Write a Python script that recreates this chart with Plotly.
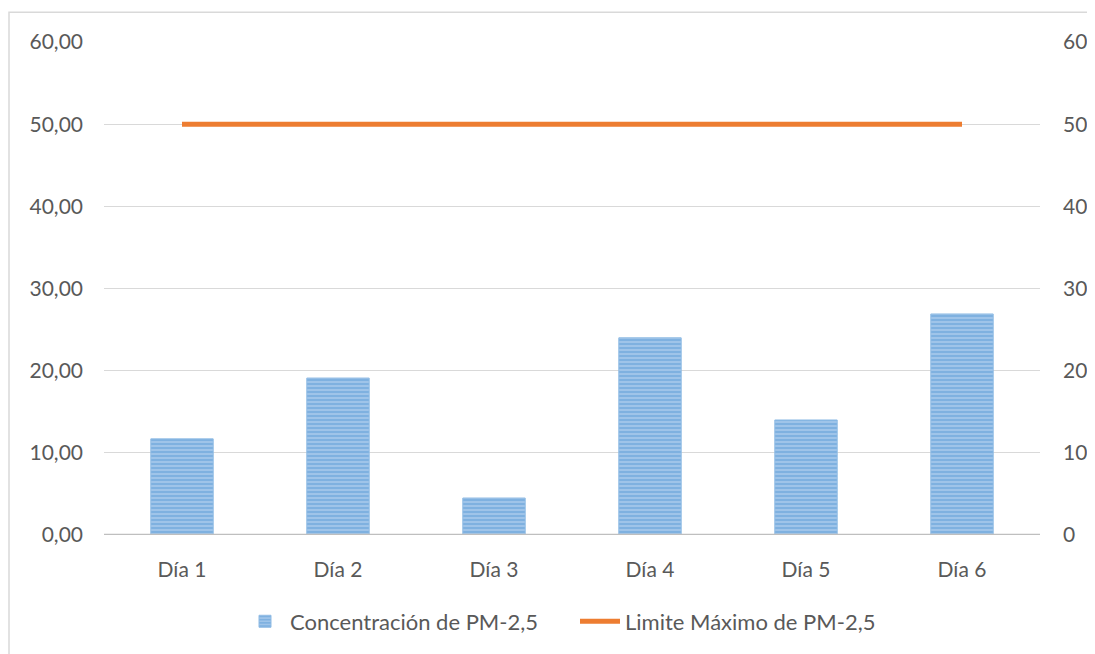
import plotly.graph_objects as go

categories = ["Día 1", "Día 2", "Día 3", "Día 4", "Día 5", "Día 6"]
concentracion = [11.7, 19.1, 4.5, 24.0, 14.0, 26.9]
limite = [50, 50, 50, 50, 50, 50]
left_ticks = [0, 10, 20, 30, 40, 50, 60]

OFF = 8  # page body margin
W, H = 1095 - OFF, 654 - OFF
L, T = 104 - OFF, 42 - OFF
pw, ph = 936, 496
R, B = W - L - pw, H - T - ph

font = "Lato"
tcol = "#595959"
fs = 21

fig = go.Figure()
fig.add_trace(go.Bar(
    x=categories, y=concentracion, name="Concentración de PM-2,5",
    width=0.4,
    marker=dict(color="#a2c6ea", line=dict(color="#8fbbe4", width=1),
                pattern=dict(shape="-", fgcolor="#5b9bd5", size=4, solidity=0.55)),
))
fig.add_trace(go.Scatter(
    x=categories, y=limite, name="Limite Máximo de PM-2,5", mode="lines",
    line=dict(color="#ed7d31", width=5), yaxis="y2",
))

fig.update_layout(
    width=W, height=H,
    margin=dict(l=L, r=R, t=T, b=B),
    paper_bgcolor="white", plot_bgcolor="white",
    separators=",.",
    font=dict(family=font, color=tcol, size=fs),
    xaxis=dict(showgrid=False, ticks="", ticklabelstandoff=20, automargin=False,
               tickfont=dict(size=fs, color=tcol)),
    yaxis=dict(range=[0, 60], tickvals=left_ticks, tickformat=".2f",
               gridcolor="#d9d9d9", gridwidth=1, zeroline=False, automargin=False,
               showline=False, ticks="", ticklen=0, ticklabelstandoff=20,
               tickfont=dict(size=fs, color=tcol)),
    yaxis2=dict(range=[0, 60], tickvals=left_ticks, overlaying="y", side="right",
                showgrid=False, zeroline=False, ticks="", ticklabelstandoff=22,
                automargin=False, tickfont=dict(size=fs, color=tcol)),
    legend=dict(orientation="h", x=(240 - 104) / pw, xanchor="left",
                y=-(625 - 538) / ph, yanchor="middle",
                font=dict(size=22, color=tcol), traceorder="normal",
                itemwidth=40, entrywidth=280, entrywidthmode="pixels"),
    shapes=[
        dict(type="line", xref="paper", yref="y", x0=0, x1=1, y0=0, y1=0,
             line=dict(color="#bfbfbf", width=2.5)),
        dict(type="rect", xref="paper", yref="paper",
             x0=(9 - 104) / pw, x1=(1100 - 104) / pw,
             y0=-(670 - 538) / ph, y1=1 + (42 - 12) / ph,
             line=dict(color="#d9d9d9", width=1.5), layer="below"),
    ],
)

fig.write_html("out.html")
